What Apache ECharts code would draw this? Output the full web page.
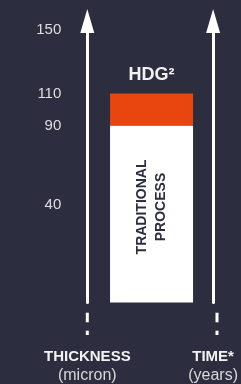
<!DOCTYPE html>
<html>
<head>
<meta charset="utf-8">
<script src="https://cdn.jsdelivr.net/npm/echarts@6/dist/echarts.min.js"></script>
<style>
html, body { margin: 0; padding: 0; background: #2c2d3e; }
#chart { width: 241px; height: 384px; }
</style>
</head>
<body>
<div id="chart"></div>
<script>
// values
var categories = ['HDG²'];
var traditionalThickness = [90];   // white part
var hdgThickness = [110];          // top of the orange part
var tickValues = [40, 90, 110, 150];
var highlightTick = 110;
var axisNames = ['THICKNESS', 'TIME*'];
var axisUnits = ['(micron)', '(years)'];
var innerLabel = ['TRADITIONAL', 'PROCESS'];

var bg = '#2c2d3e';
var orange = '#e8450f';
var font = 'Liberation Sans, Arial, sans-serif';

// the picture is not drawn to scale, this range is a best fit of the ticks
var yMin = -21, yMax = 155.5;

var extra = hdgThickness.map(function (v, i) { return v - traditionalThickness[i]; });

var chart = echarts.init(document.getElementById('chart'));

function nameRich() {
  return {
    b: { fontFamily: font, fontWeight: 'bold', fontSize: 15, color: '#f2f2f2', lineHeight: 19 },
    n: { fontFamily: font, fontSize: 16, color: '#d9d9d9', lineHeight: 19 }
  };
}

var arrowLine = {
  show: true,
  symbol: ['none', 'triangle'],
  symbolSize: [14, 24],
  lineStyle: { color: '#ffffff', width: 3 }
};

chart.setOption({
  backgroundColor: bg,
  animation: false,
  grid: { left: 90, right: 24, top: 21, bottom: 80.5 },
  xAxis: {
    type: 'category',
    data: categories,
    show: false
  },
  yAxis: [{
    type: 'value',
    min: yMin,
    max: yMax,
    startValue: yMin,
    position: 'left',
    offset: 2.7,
    axisLine: arrowLine,
    axisTick: { show: false },
    splitLine: { show: false },
    axisLabel: {
      customValues: tickValues,
      margin: 26,
      fontFamily: font,
      fontSize: 15,
      color: function (v) { return v === highlightTick ? orange : '#dedede'; }
    },
    name: '{b|' + axisNames[0] + '}\n{n|' + axisUnits[0] + '}',
    nameLocation: 'start',
    nameGap: 45,
    nameTextStyle: { align: 'center', rich: nameRich() }
  }, {
    type: 'value',
    min: yMin,
    max: yMax,
    startValue: yMin,
    position: 'right',
    axisLine: arrowLine,
    axisTick: { show: false },
    splitLine: { show: false },
    axisLabel: { show: false },
    name: '{b|' + axisNames[1] + '}\n{n|' + axisUnits[1] + '}',
    nameLocation: 'start',
    nameGap: 45,
    nameTextStyle: { align: 'center', rich: nameRich() }
  }],
  series: [{
    type: 'bar',
    stack: 'thick',
    barWidth: 83,
    data: traditionalThickness,
    itemStyle: { color: '#ffffff' },
    label: {
      show: true,
      position: 'inside',
      rotate: 90,
      offset: [7, 0],
      formatter: innerLabel.join('\n'),
      fontFamily: font,
      fontWeight: 'bold',
      fontSize: 14,
      lineHeight: 19,
      color: bg
    }
  }, {
    type: 'bar',
    stack: 'thick',
    barWidth: 83,
    data: extra,
    itemStyle: { color: orange },
    label: {
      show: true,
      position: 'top',
      distance: 10,
      formatter: function (p) { return p.name; },
      fontFamily: font,
      fontWeight: 'bold',
      fontSize: 18,
      color: '#f2f2f2'
    }
  }],
  graphic: [
    { type: 'rect', shape: { x: 85.8, y: 312.7, width: 3, height: 9.6 }, style: { fill: '#fff' } },
    { type: 'rect', shape: { x: 85.8, y: 330.7, width: 3, height: 4.3 }, style: { fill: '#fff' } },
    { type: 'rect', shape: { x: 215.5, y: 312.7, width: 3, height: 9.6 }, style: { fill: '#fff' } },
    { type: 'rect', shape: { x: 215.5, y: 330.7, width: 3, height: 4.3 }, style: { fill: '#fff' } }
  ]
});
</script>
</body>
</html>
